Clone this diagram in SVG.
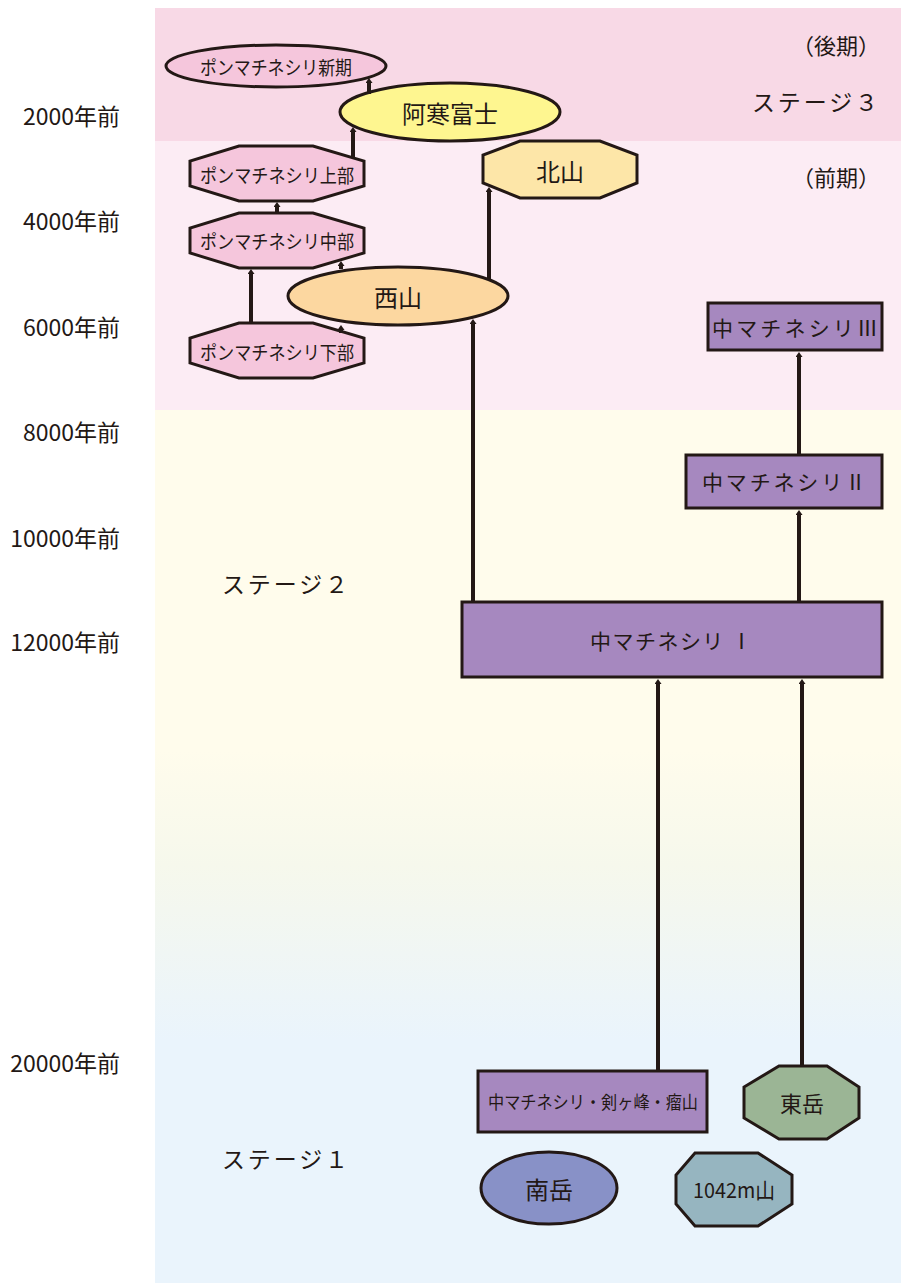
<svg xmlns="http://www.w3.org/2000/svg" width="901" height="1283" viewBox="0 0 901 1283">
<style>
text{font-family:"Noto Sans CJK JP","Noto Sans",sans-serif;fill:#231815;text-anchor:middle;dominant-baseline:central}
.yr{text-anchor:end;font-size:23px}
.st{font-size:23px;text-anchor:start}
.nd{stroke:#231815;stroke-width:3}
.pk{fill:#f5c6dc}
.pu{fill:#a688bf}
.cn{stroke:#231815;stroke-width:4;fill:none;marker-end:url(#ah)}
.s18{font-size:19px}
.s21{font-size:21px}
.s24{font-size:24px}
</style>
<defs>
<marker id="ah" markerUnits="userSpaceOnUse" viewBox="0 0 5 7" markerWidth="5" markerHeight="7" refX="0" refY="3.5" orient="auto">
<path d="M0,0 L5,3.5 L0,7 z" fill="#231815"/>
</marker>
<linearGradient id="bg" gradientUnits="userSpaceOnUse" x1="0" y1="750" x2="0" y2="1040">
<stop offset="0" stop-color="#fffcec"/>
<stop offset="0.4" stop-color="#f6f8ec"/>
<stop offset="1" stop-color="#eaf4fc"/>
</linearGradient>
</defs>
<rect width="901" height="1283" fill="#ffffff"/>
<g id="background">
<rect x="155" y="410" width="746" height="873" fill="url(#bg)"/>
<rect x="155" y="141" width="746" height="269" fill="#fcecf4"/>
<rect x="155" y="8" width="746" height="133" fill="#f8d9e6"/>
</g>
<g id="labels">
<text class="yr" x="120" y="115">2000年前</text>
<text class="yr" x="120" y="220">4000年前</text>
<text class="yr" x="120" y="326">6000年前</text>
<text class="yr" x="120" y="431">8000年前</text>
<text class="yr" x="120" y="537">10000年前</text>
<text class="yr" x="120" y="641">12000年前</text>
<text class="yr" x="120" y="1062">20000年前</text>
<text x="836" y="44" style="font-size:22px">（後期）</text>
<text x="836" y="176" style="font-size:22px">（前期）</text>
<text class="st" x="752" y="101" textLength="126">ステージ３</text>
<text class="st" x="222" y="583" textLength="126">ステージ２</text>
<text class="st" x="222" y="1158" textLength="126">ステージ１</text>
</g>
<g id="n-shinki">
<ellipse class="nd pk" cx="276" cy="66" rx="110" ry="21"/>
<text class="s18" x="276" y="66" textLength="152" lengthAdjust="spacingAndGlyphs">ポンマチネシリ新期</text>
</g>
<g id="n-akanfuji">
<ellipse class="nd" fill="#fef690" cx="450" cy="112" rx="110" ry="29"/>
<text class="s24" x="450" y="112">阿寒富士</text>
</g>
<g id="n-joubu">
<polygon class="nd pk" points="239,146 313,146 364,161 364,186 313,201 239,201 190,186 190,161"/>
<text class="s18" x="277" y="174" textLength="154" lengthAdjust="spacingAndGlyphs">ポンマチネシリ上部</text>
</g>
<g id="n-chuubu">
<polygon class="nd pk" points="239,213 313,213 364,228 364,253 313,268 239,268 190,253 190,228"/>
<text class="s18" x="277" y="240" textLength="154" lengthAdjust="spacingAndGlyphs">ポンマチネシリ中部</text>
</g>
<g id="n-kabu">
<polygon class="nd pk" points="239,323 313,323 364,338 364,363 313,378 239,378 190,363 190,338"/>
<text class="s18" x="277" y="351" textLength="154" lengthAdjust="spacingAndGlyphs">ポンマチネシリ下部</text>
</g>
<g id="n-hokuzan">
<polygon class="nd" fill="#fde6a8" points="520,141 600,141 637,155 637,183 600,198 520,198 483,183 483,155"/>
<text class="s24" x="560" y="170">北山</text>
</g>
<g id="n-nishiyama">
<ellipse class="nd" fill="#fcd7a0" cx="398" cy="296" rx="110" ry="29"/>
<text class="s24" x="398" y="296">西山</text>
</g>
<g id="n-naka3">
<rect class="nd pu" x="708" y="303" width="174" height="47"/>
<text class="s21" x="795" y="327" textLength="166">中マチネシリⅢ</text>
</g>
<g id="n-naka2">
<rect class="nd pu" x="686" y="455" width="196" height="53"/>
<text class="s21" x="784" y="481" textLength="164">中マチネシリⅡ</text>
</g>
<g id="n-naka1">
<rect class="nd pu" x="462" y="602" width="420" height="75"/>
<text class="s21" x="671" y="640" textLength="162">中マチネシリ Ⅰ</text>
</g>
<g id="n-kengamine">
<rect class="nd pu" x="478" y="1071" width="229" height="61"/>
<text x="593" y="1101" style="font-size:18px" textLength="210" lengthAdjust="spacingAndGlyphs">中マチネシリ・剣ヶ峰・瘤山</text>
</g>
<g id="n-higashidake">
<polygon class="nd" fill="#9bb595" points="779,1066 827,1066 859,1087 859,1118 827,1139 779,1139 744,1118 744,1087"/>
<text x="802" y="1102" style="font-size:22px">東岳</text>
</g>
<g id="n-minamidake">
<ellipse class="nd" fill="#8891c7" cx="549" cy="1188" rx="68" ry="36"/>
<text class="s24" x="549" y="1188">南岳</text>
</g>
<g id="n-1042">
<polygon class="nd" fill="#96b5c0" points="695,1153 758,1153 792,1175 792,1204 758,1226 695,1226 676,1204 676,1175"/>
<text class="s21" x="734" y="1189" textLength="82" lengthAdjust="spacingAndGlyphs">1042m山</text>
</g>
<g id="connectors">
<line class="cn" x1="369" y1="94" x2="369" y2="83"/>
<line class="cn" x1="353" y1="158" x2="353" y2="132"/>
<line class="cn" x1="277" y1="213" x2="277" y2="207"/>
<line class="cn" x1="251" y1="323" x2="251" y2="274"/>
<line class="cn" x1="341" y1="269" x2="341" y2="266"/>
<line class="cn" x1="341" y1="333" x2="341" y2="330"/>
<line class="cn" x1="489" y1="280" x2="489" y2="192"/>
<line class="cn" x1="473" y1="602" x2="473" y2="324"/>
<line class="cn" x1="799" y1="455" x2="799" y2="357"/>
<line class="cn" x1="799" y1="602" x2="799" y2="515"/>
<line class="cn" x1="658" y1="1071" x2="658" y2="684"/>
<line class="cn" x1="802" y1="1066" x2="802" y2="684"/>
</g>
</svg>
